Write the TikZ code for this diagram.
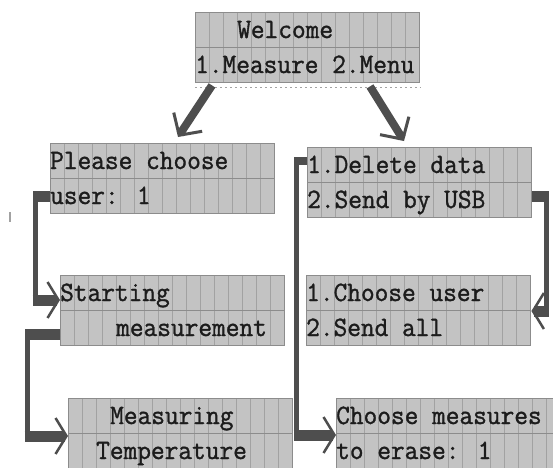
\documentclass[tikz,border=0pt]{standalone}
\usepackage{fontspec}
\usetikzlibrary{calc,arrows.meta}
\newfontfamily\lcdfont{lmmono12-regular.otf}[FakeStretch=0.95,FakeBold=1.2]

\definecolor{lcdback}{HTML}{C3C3C3}
\definecolor{lcdcellc}{HTML}{A2A2A2}
\definecolor{lcdedge}{HTML}{8C8C8C}
\definecolor{lcdink}{HTML}{1C1C1C}
\definecolor{wire}{HTML}{4E4E4E}

% one 16x2 character display: name, x, y, lead cells and text of each row
\newcommand\lcdbox[7]{%
  \node[lcd] (#1) at (#2,#3) {};
  \node[lcdtext] (#1-r1) at ($(#1.north west)+(14*#4,26)$) {#5};
  \node[lcdtext] (#1-r2) at ($(#1.north west)+(14*#6,61)$) {#7};
}

\begin{document}
\begin{tikzpicture}[x=1pt,y=-1pt,
  lcd/.style={rectangle, anchor=north west, inner sep=0pt,
    minimum width=224pt, minimum height=70pt,
    fill=lcdback, draw=lcdedge, line width=1.4pt,
    path picture={
      \foreach \k in {1,...,15}
        \draw[lcdcellc, line width=0.9pt]
          ($(path picture bounding box.north west)+(14*\k,0)$) --
          ($(path picture bounding box.south west)+(14*\k,0)$);
      \draw[lcdedge, line width=1.3pt]
        (path picture bounding box.west) -- (path picture bounding box.east);
    }},
  lcdtext/.style={anchor=base west, inner sep=0pt, text=lcdink,
    font=\lcdfont\fontsize{28pt}{28pt}\selectfont},
  diag/.style={draw=wire, line width=8pt,
    -{Straight Barb[length=16pt, width=34pt, line width=3pt]}},
  elbow/.style={draw=wire, line width=5pt,
    -{Straight Barb[length=11pt, width=36pt, line width=2.5pt]}},
  stub/.style={draw=wire, line width=11pt, line cap=butt},
]
\useasboundingbox (0,0) rectangle (553,467);
\clip (0,0) rectangle (553,467);
\fill[white] (0,0) rectangle (553,467);

% displays
\lcdbox{welcome}{195}{12}{3}{Welcome}{0}{1.Measure 2.Menu}
\lcdbox{user}{50}{143}{0}{Please choose}{0}{user: 1}
\lcdbox{menu}{307}{147}{0}{1.Delete data}{0}{2.Send by USB}
\lcdbox{start}{60}{275}{0}{Starting}{4}{measurement}
\lcdbox{send}{306}{275}{0}{1.Choose user}{0}{2.Send all}
\lcdbox{temp}{68}{398}{3}{Measuring}{2}{Temperature}
\lcdbox{erase}{336}{398}{0}{Choose measures}{0}{to erase: 1}

% dotted rule under the first display and a stray tick
\draw[lcdcellc, line width=1pt, dash pattern=on 2pt off 3pt]
  ($(welcome.south west)+(0,4)$) -- ($(welcome.south east)+(0,4)$);
\coordinate (tickA) at (10,212);
\coordinate (tickB) at (10,222);
\draw[lcdcellc, line width=1.5pt] (tickA) -- (tickB);

% branches out of the welcome screen
\draw[diag] ($(welcome.south west)+(17,2)$) -- ($(user.north west)+(128,-6)$);
\draw[diag] ($(welcome.south west)+(175,3)$) -- ($(menu.north west)+(97,-6)$);

% user choice -> starting measurement
\coordinate (a1) at ($(user.north west)+(0,53)$);
\coordinate (a2) at ($(start.north west)+(0,25)$);
\draw[elbow] (a1) -- ++(-15,0) |- (a2);
\draw[stub] (a1) -- ++(-17.5,0);
\draw[stub] ($(a2)+(-27.5,0)$) -- ($(a2)+(-3,0)$);

% starting measurement -> measuring temperature
\coordinate (b1) at ($(start.north west)+(0,59)$);
\coordinate (b2) at ($(temp.north west)+(0,38)$);
\draw[elbow] (b1) -- ++(-33,0) |- (b2);
\draw[stub] (b1) -- ++(-35.5,0);
\draw[stub] ($(b2)+(-43.5,0)$) -- ($(b2)+(-3,0)$);

% delete data -> choose measures
\coordinate (c1) at ($(menu.north west)+(0,14)$);
\coordinate (c2) at ($(erase.north west)+(0,37)$);
\draw[elbow] (c1) -- ++(-11,0) |- (c2);
\draw[stub, line width=8pt] (c1) -- ++(-13.5,0);
\draw[stub] ($(c2)+(-42.5,0)$) -- ($(c2)+(-3,0)$);

% send by USB -> choose user / send all
\coordinate (d1) at ($(menu.north east)+(0,49)$);
\coordinate (d2) at ($(send.north east)+(0,36)$);
\draw[elbow] (d1) -- ++(14,0) |- (d2);
\draw[stub] (d1) -- ++(16.5,0);
\draw[stub] ($(d2)+(17.5,0)$) -- ($(d2)+(3,0)$);
\end{tikzpicture}
\end{document}
